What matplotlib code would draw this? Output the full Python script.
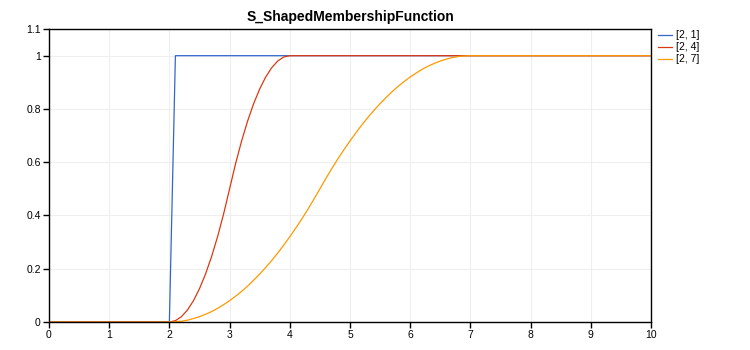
import matplotlib.pyplot as plt

# S-shaped membership curves for parameter pairs [a, b]
labels = ['[2, 1]', '[2, 4]', '[2, 7]']
colors = ['#3366cc', '#dc3912', '#ff9900']

x_21 = [0.0, 2.0, 2.1, 10.0]
y_21 = [0.0, 0.0, 1.0, 1.0]

x_24 = [0.0, 2.0, 2.1, 2.2, 2.3, 2.4, 2.5, 2.6, 2.7, 2.8, 2.9, 3.0,
        3.1, 3.2, 3.3, 3.4, 3.5, 3.6, 3.7, 3.8, 3.9, 4.0, 10.0]
y_24 = [0.0, 0.0, 0.005, 0.02, 0.045, 0.08, 0.125, 0.18, 0.245, 0.32, 0.405, 0.5,
        0.595, 0.68, 0.755, 0.82, 0.875, 0.92, 0.955, 0.98, 0.995, 1.0, 1.0]

x_27 = [0.0, 2.0, 2.1, 2.2, 2.3, 2.4, 2.5, 2.6, 2.7, 2.8, 2.9, 3.0,
        3.1, 3.2, 3.3, 3.4, 3.5, 3.6, 3.7, 3.8, 3.9, 4.0,
        4.1, 4.2, 4.3, 4.4, 4.5, 4.6, 4.7, 4.8, 4.9, 5.0,
        5.1, 5.2, 5.3, 5.4, 5.5, 5.6, 5.7, 5.8, 5.9, 6.0,
        6.1, 6.2, 6.3, 6.4, 6.5, 6.6, 6.7, 6.8, 6.9, 7.0, 10.0]
y_27 = [0.0, 0.0, 0.001, 0.003, 0.007, 0.013, 0.02, 0.029, 0.039, 0.051, 0.065, 0.08,
        0.097, 0.115, 0.135, 0.157, 0.18, 0.205, 0.231, 0.259, 0.289, 0.32,
        0.353, 0.387, 0.423, 0.461, 0.5, 0.539, 0.577, 0.613, 0.647, 0.68,
        0.711, 0.741, 0.769, 0.795, 0.82, 0.843, 0.865, 0.885, 0.903, 0.92,
        0.935, 0.949, 0.961, 0.971, 0.98, 0.987, 0.993, 0.997, 0.999, 1.0, 1.0]

x_ticks = [0, 1, 2, 3, 4, 5, 6, 7, 8, 9, 10]
y_ticks = [0, 0.2, 0.4, 0.6, 0.8, 1.0, 1.1]
y_tick_labels = ['0', '0.2', '0.4', '0.6', '0.8', '1', '1.1']

plt.rcParams['font.family'] = ['Liberation Sans', 'DejaVu Sans']

fig = plt.figure(figsize=(7.5, 3.5), dpi=100)
ax = fig.add_axes([0.0653, 0.08, 0.8027, 0.837])

for xs, ys, lab, col in zip([x_21, x_24, x_27], [y_21, y_24, y_27], labels, colors):
    ax.plot(xs, ys, color=col, lw=0.9, label=lab)

ax.set_xlim(0, 10)
ax.set_ylim(0, 1.1)
ax.set_xticks(x_ticks)
ax.set_yticks(y_ticks)
ax.set_yticklabels(y_tick_labels)
ax.tick_params(labelsize=7.5, length=4, width=1, pad=2, colors='black')
ax.grid(True, color='#efefef', lw=0.8)
ax.set_axisbelow(True)
# keep the frame on top so the zero segments sit under the axis line
for s in ax.spines.values():
    s.set_linewidth(1.0)
    s.set_color('black')
    s.set_zorder(5)

ax.set_title('S_ShapedMembershipFunction', fontsize=10, fontweight='bold', pad=6)

ax.legend(loc='upper left', bbox_to_anchor=(1.0, 1.021), frameon=False, fontsize=7.5,
          handlelength=1.3, handletextpad=0.4, labelspacing=0.2, borderaxespad=0.3)

fig.savefig('out.png', dpi=100)
